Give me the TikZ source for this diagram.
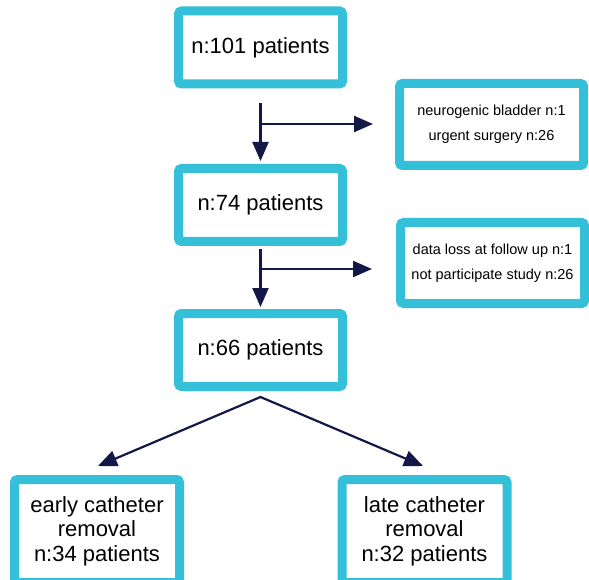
\documentclass[tikz,border=0pt]{standalone}
\usepackage{fontspec}
\setmainfont{Liberation Sans}
\usetikzlibrary{arrows.meta}
\definecolor{boxcyan}{RGB}{52,192,216}
\definecolor{arrnavy}{RGB}{20,24,72}

\begin{document}
\begin{tikzpicture}[x=1pt,y=-1pt,
  box/.style={draw=boxcyan,line width=9pt,rounded corners=3pt,fill=white,align=center,inner sep=0pt},
  mainbox/.style={box,minimum width=164pt,minimum height=73pt,font=\fontsize{22}{24}\selectfont},
  sidebox/.style={box,minimum width=184pt,minimum height=82pt,font=\fontsize{14.5}{25}\selectfont},
  endbox/.style={box,minimum width=165pt,minimum height=103pt,font=\fontsize{22}{24.5}\selectfont},
  arr/.style={draw=arrnavy,line width=2.2pt,>={Triangle[length=19pt,width=16pt]}}]
\clip (0,0) rectangle (589,580);

\node[mainbox] (p101) at (260.5,47.5) {n:101 patients};
\node[mainbox] (p74) at (260.5,205) {n:74 patients};
\node[mainbox] (p66) at (260.5,350) {n:66 patients};

\node[sidebox] (ex1) at (491.5,124.5) {neurogenic bladder n:1\\urgent surgery n:26};
\node[sidebox,minimum height=81pt] (ex2) at (492.5,263) {data loss at follow up n:1\\not participate study n:26};

\node[endbox] (early) at (97,531) {early catheter\\removal\\n:34 patients};
\node[endbox] (late) at (424.5,531) {late catheter\\removal\\n:32 patients};

\coordinate (j1) at (260.5,124);
\coordinate (j2) at (260.5,269);
\coordinate (apex) at (260.5,397);

\draw[arr,->,shorten <=15pt,shorten >=3pt] (p101.south) -- (p74.north);
\draw[arr,->,shorten >=22pt] (j1) -- (j1 -| ex1.west);

\draw[arr,->,shorten <=3pt,shorten >=2pt] (p74.south) -- (p66.north);
\draw[arr,->,shorten >=24pt] (j2) -- (j2 -| ex2.west);

\draw[arr,<->] ([yshift=9pt,xshift=1pt]early.north) -- (apex) -- ([yshift=9pt,xshift=-1.5pt]late.north);
\end{tikzpicture}
\end{document}
